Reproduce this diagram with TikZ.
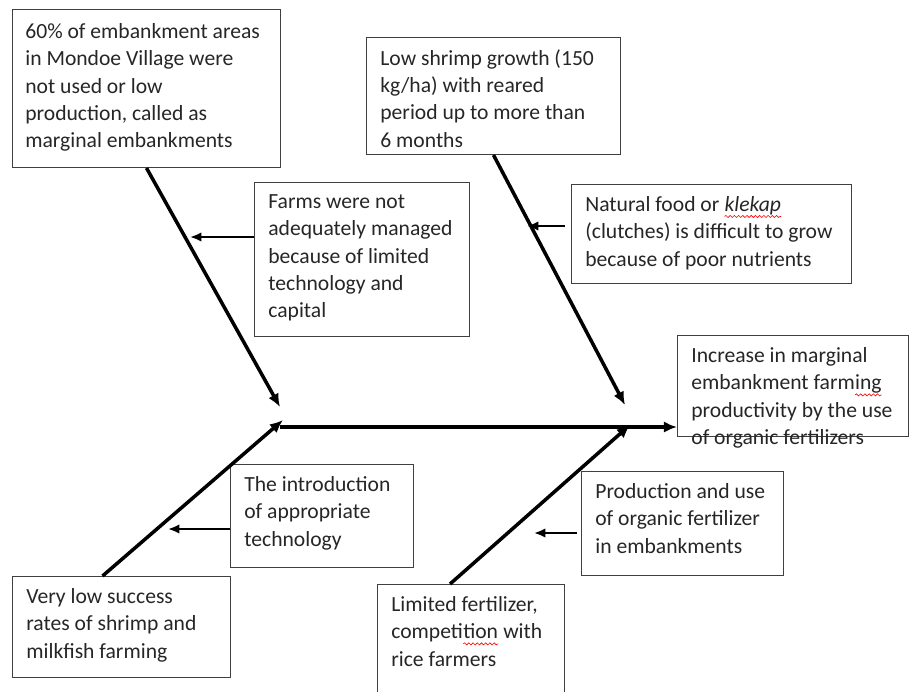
\documentclass[tikz,border=0pt]{standalone}
\usepackage{fontspec}
\setmainfont{Carlito}
\usetikzlibrary{arrows.meta,positioning,decorations.pathmorphing}

\newcommand{\fishfont}{\fontsize{12.3pt}{15.6pt}\selectfont}
\newcommand{\spellmark}[1]{\tikz[baseline=(sm.base)]{\node[inner sep=0pt, outer sep=0pt, anchor=base] (sm) {#1};
    \draw[red, line width=0.35pt, decorate, decoration={snake, amplitude=0.6pt, segment length=2.4pt}] ([yshift=-2.9pt]sm.base west) -- ([yshift=-2.9pt]sm.base east);}}

\begin{document}
\begin{tikzpicture}[x=0.02cm, y=-0.02cm,
    box/.style={draw=black!75, line width=0.6pt, anchor=north west, inner sep=0pt},
    txt/.style={anchor=north west, inner sep=0pt, align=left, font=\fishfont, text=black!85},
    bone/.style={line width=2pt, -{Latex[length=7.5pt, width=6.5pt]}},
    cause/.style={line width=1.6pt, -{Latex[length=6.5pt, width=5.5pt]}}]
    \useasboundingbox (0,0) rectangle (909,691);

    % Boxes
    \node[box, minimum width=5.36cm, minimum height=3.16cm] (area) at (12,9) {};
    \node[txt] (area-t) at ([shift={(13,14)}]area.north west) {60\% of embankment areas\\ in Mondoe Village were\\ not used or low\\ production, called as\\ marginal embankments};

    \node[box, minimum width=5.08cm, minimum height=2.34cm] (growth) at (366,37) {};
    \node[txt] (growth-t) at ([shift={(14,12)}]growth.north west) {Low shrimp growth (150\\ kg/ha) with reared\\ period up to more than\\ 6 months};

    \node[box, minimum width=4.30cm, minimum height=3.08cm] (farms) at (254,182) {};
    \node[txt] (farms-t) at ([shift={(14,12)}]farms.north west) {Farms were not\\ adequately managed\\ because of limited\\ technology and\\ capital};

    \node[box, minimum width=5.60cm, minimum height=1.98cm] (food) at (571,184) {};
    \node[txt] (food-t) at ([shift={(14,12)}]food.north west) {Natural food or \spellmark{\textit{klekap}}\\ (clutches) is difficult to grow\\ because of poor nutrients};

    \node[box, minimum width=4.62cm, minimum height=2.02cm] (goal) at (677,335) {};
    \node[txt] (goal-t) at ([shift={(14,12)}]goal.north west) {Increase in marginal\\ embankment farm\spellmark{ing}\\ productivity by the use\\ of organic fertilizers};

    \node[box, minimum width=3.66cm, minimum height=2.06cm] (tech) at (230,464) {};
    \node[txt] (tech-t) at ([shift={(14,12)}]tech.north west) {The introduction\\ of appropriate\\ technology};

    \node[box, minimum width=4.36cm, minimum height=2.02cm] (rates) at (12,576) {};
    \node[txt] (rates-t) at ([shift={(14,12)}]rates.north west) {Very low success\\ rates of shrimp and\\ milkfish farming};

    \node[box, minimum width=4.04cm, minimum height=2.08cm] (fert) at (581,471) {};
    \node[txt] (fert-t) at ([shift={(14,12)}]fert.north west) {Production and use\\ of organic fertilizer\\ in embankments};

    \node[box, minimum width=3.74cm, minimum height=2.40cm] (limit) at (377,584) {};
    \node[txt] (limit-t) at ([shift={(14,12)}]limit.north west) {Limited fertilizer,\\ competi\spellmark{tion} with\\ rice farmers};

    % Bone ends
    \coordinate (spine) at (280,427);
    \coordinate (tipA) at (280,407);
    \coordinate (tipB) at (625,405);
    \coordinate (tipG) at (283,420);
    \coordinate (tipI) at (630,425);
    \coordinate (onA) at (190,237);
    \coordinate (onB) at (527,226);
    \coordinate (onG) at (168,529);
    \coordinate (onI) at (534,533);
    \coordinate (fromD) at (565,226);
    \coordinate (fromH) at (577,533);

    % Spine and bones
    \draw[bone] (spine) -- (spine -| goal.west);
    \draw[bone] (area.south) -- (tipA);
    \draw[bone] (growth.south) -- (tipB);
    \draw[bone] ([shift={(-19,0)}]rates.north) -- (tipG);
    \draw[bone] ([shift={(-21,0)}]limit.north) -- (tipI);

    % Causes
    \draw[cause] (farms.west |- onA) -- (onA);
    \draw[cause] (fromD) -- (onB);
    \draw[cause] (tech.west |- onG) -- (onG);
    \draw[cause] (fromH) -- (onI);
\end{tikzpicture}
\end{document}
